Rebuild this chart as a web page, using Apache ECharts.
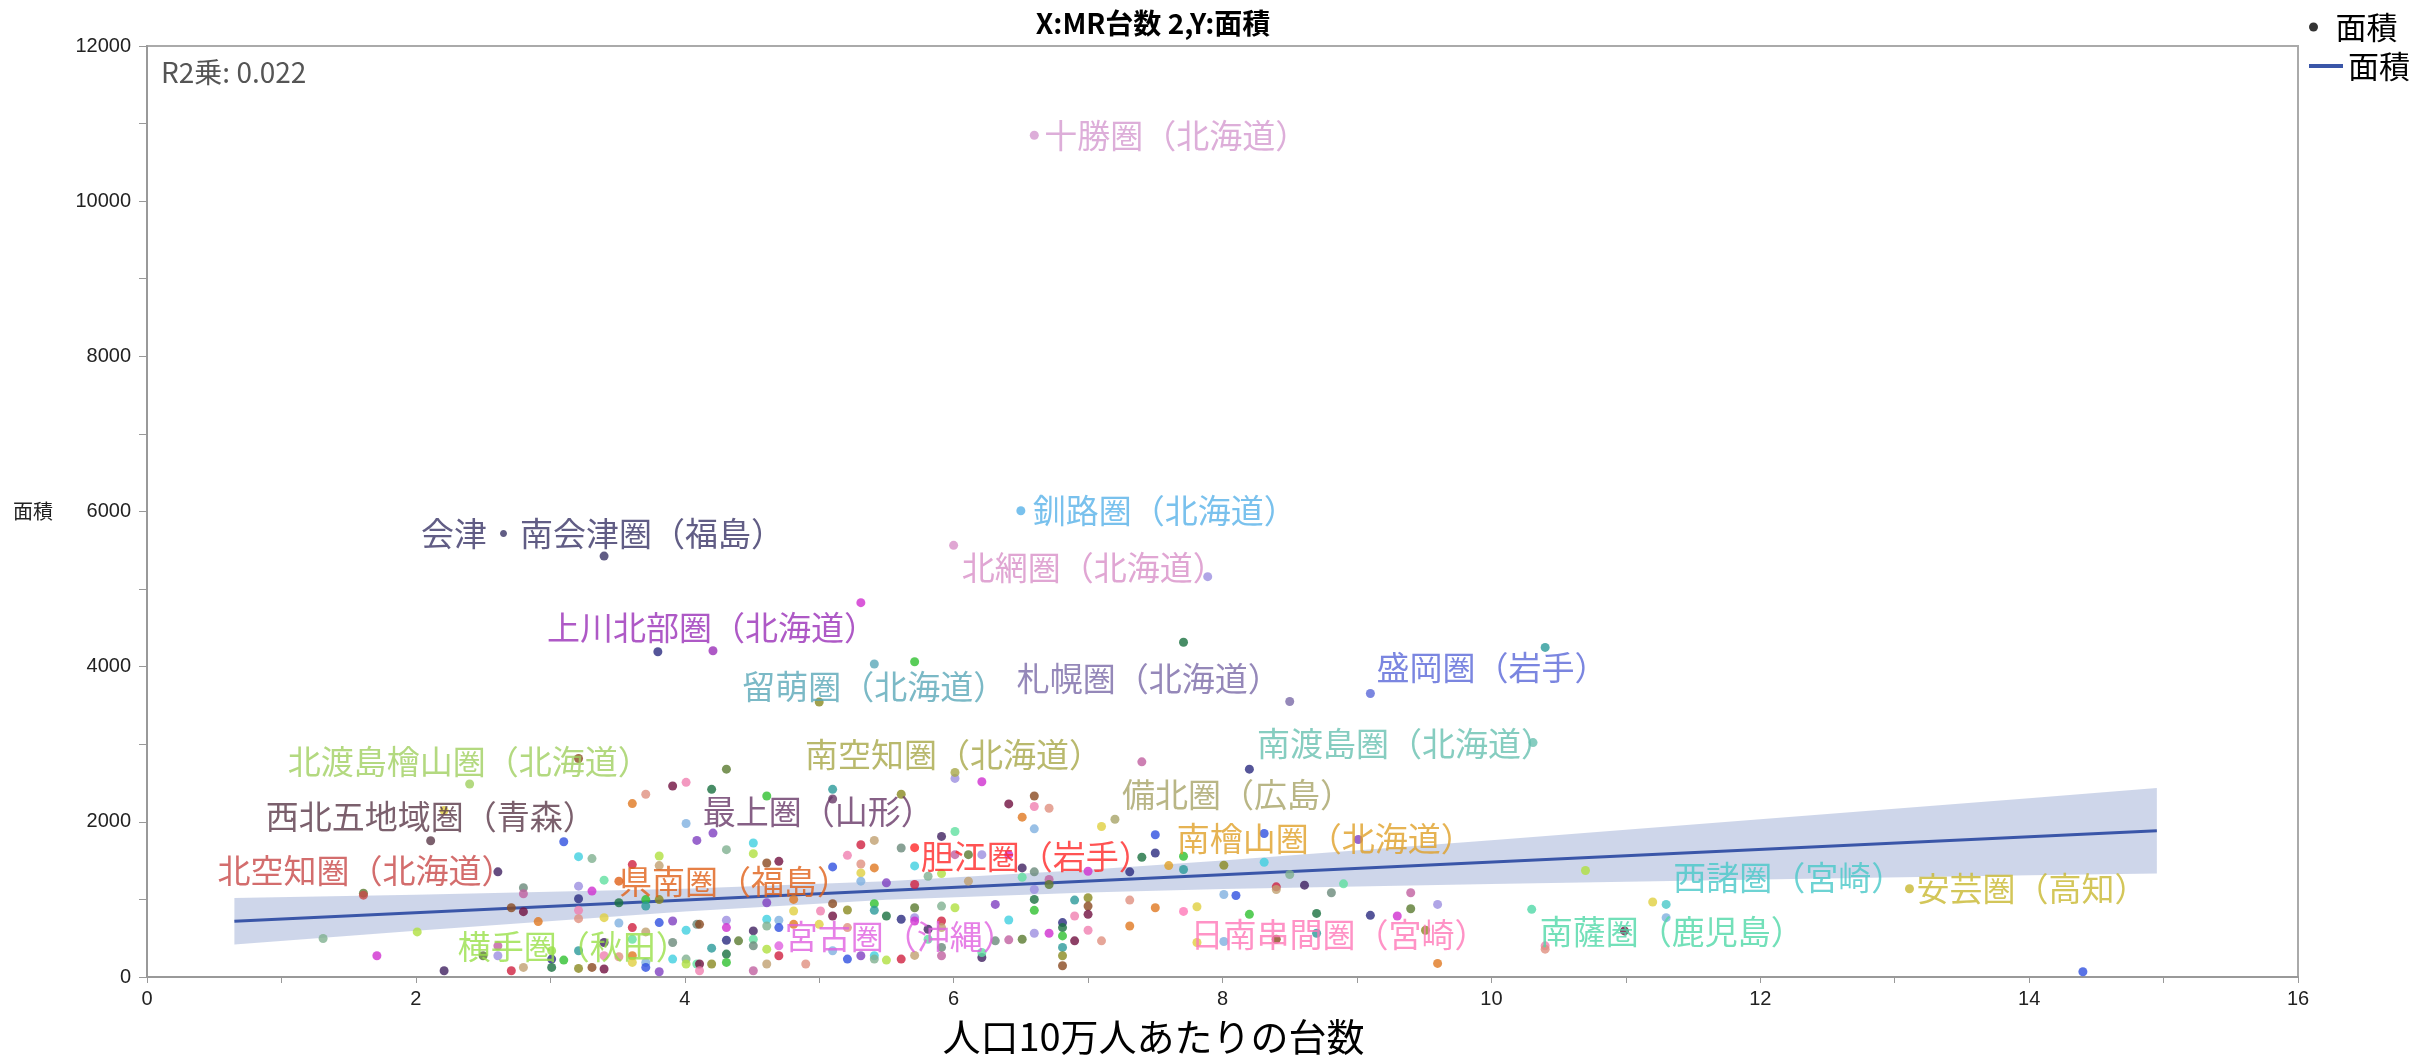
<!DOCTYPE html>
<html>
<head>
<meta charset="utf-8">
<script src="https://cdn.jsdelivr.net/npm/echarts@6/dist/echarts.min.js"></script>
<style>
html,body{margin:0;padding:0;background:#fff;}
#chart{width:2420px;height:1061px;}
</style>
</head>
<body>
<div id="chart"></div>
<script>
// MR台数 (人口10万人あたり) と 面積 - 二次医療圏ごとの散布図

// ラベルなしの点
var mrRate = [
  7.89,5.31,3.80,7.71,5.71,10.40,5.00,3.21,3.91,4.01,3.71,3.61,2.21,4.01,3.10,4.09,3.21,3.31,3.81,3.61,
  3.81,2.61,3.40,2.80,2.80,1.61,3.21,3.31,3.21,3.51,3.71,3.71,3.81,2.71,2.80,3.21,3.21,2.91,3.40,3.51,
  3.81,3.91,4.01,1.31,2.01,3.61,3.71,3.40,3.61,3.91,2.61,2.50,2.61,1.71,3.01,3.01,3.10,3.21,3.21,3.31,
  3.40,3.40,3.51,3.61,3.61,3.71,3.71,3.81,3.91,4.01,4.01,2.71,2.80,2.21,4.09,4.09,
  7.40,4.31,6.01,6.21,8.20,4.20,4.61,5.10,5.61,6.60,6.41,6.60,6.71,6.51,7.10,6.60,7.50,4.21,4.51,4.31,
  4.51,5.31,5.41,5.91,6.01,5.61,6.01,6.11,6.21,6.41,7.50,7.40,7.71,7.71,8.01,4.61,4.70,5.21,5.31,5.41,
  5.31,5.31,5.10,5.50,5.71,5.81,5.91,5.71,6.11,6.51,6.51,6.60,6.71,6.71,6.60,7.00,7.31,6.60,6.60,6.90,
  7.00,7.00,7.00,6.90,7.31,7.50,7.81,8.01,8.10,6.31,6.41,5.91,6.01,5.91,5.91,5.81,5.81,5.91,5.91,5.71,
  5.71,5.71,5.61,5.50,5.41,5.41,5.21,5.10,5.10,5.01,5.21,4.81,4.81,4.70,4.70,4.61,4.61,4.61,4.61,4.70,
  4.61,4.51,4.51,4.51,4.51,4.40,4.31,4.31,4.31,4.31,4.31,4.20,4.20,4.11,4.11,4.11,4.90,4.81,5.00,5.10,
  5.21,5.31,5.41,5.41,5.50,5.61,5.71,6.21,6.21,6.31,6.41,6.51,6.60,6.71,6.81,6.81,6.81,6.81,6.81,6.81,
  6.90,7.00,7.10,7.31,7.81,8.01,
  8.31,9.01,8.31,8.50,10.70,8.40,8.40,8.61,8.90,8.81,9.40,9.40,9.60,9.30,9.10,8.70,8.20,8.70,9.51,8.40,
  10.99,10.40,10.40,9.60,11.20,11.30,14.40
];
var area = [
  5160,4825,4192,4315,4064,4248,3543,2816,2462,2509,2355,2235,2145,1978,1744,1761,1551,1526,1560,1449,
  1436,1355,1248,1150,1073,1081,1171,1107,1009,957,998,914,998,893,842,859,752,714,765,696,
  701,722,603,496,581,637,581,445,487,445,402,274,274,274,231,124,218,338,111,124,
  103,274,261,274,188,188,124,68,231,231,167,81,124,81,167,679,
  2773,2679,2560,2517,2679,2419,2333,2419,2355,2333,2231,2197,2175,2060,1940,1910,1833,1855,1727,1641,
  1590,1705,1761,1812,1876,1663,1577,1577,1577,1577,1598,1543,1556,1385,1440,1470,1491,1568,1457,1406,
  1342,1235,1419,1214,1432,1299,1333,1192,1235,1406,1286,1355,1256,1192,1128,1363,1355,1000,859,991,
  1021,914,808,786,991,893,906,1064,1051,936,735,914,893,722,637,616,487,381,274,893,
  765,722,744,786,945,859,863,945,786,850,637,1000,850,731,637,957,744,658,359,274,
  167,594,487,402,81,466,731,637,474,295,188,372,167,679,167,81,167,679,679,338,
  231,274,274,231,218,231,278,252,316,466,479,487,564,564,701,637,530,381,274,145,
  466,603,466,658,445,458,
  1850,1773,1479,1321,1372,1162,1128,1184,1201,1086,1086,880,936,786,795,820,808,564,603,487,
  594,402,359,175,966,765,68
];

// ラベル付きの点
var regionNames = [
  '十勝圏（北海道）','釧路圏（北海道）','北網圏（北海道）','会津・南会津圏（福島）','上川北部圏（北海道）',
  '留萌圏（北海道）','札幌圏（北海道）','盛岡圏（岩手）','南渡島圏（北海道）','北渡島檜山圏（北海道）',
  '南空知圏（北海道）','西北五地域圏（青森）','最上圏（山形）','備北圏（広島）','北空知圏（北海道）',
  '南檜山圏（北海道）','県南圏（福島）','胆江圏（岩手）','西諸圏（宮崎）','安芸圏（高知）',
  '南薩圏（鹿児島）','日南串間圏（宮崎）','宮古圏（沖縄）','横手圏（秋田）'
];
var regionX = [6.60,6.50,6.00,3.40,4.21,5.41,8.50,9.10,10.31,2.40,6.01,2.11,5.10,7.20,1.61,7.60,3.51,5.71,11.30,13.11,10.30,7.71,4.70,3.01];
var regionY = [10850,6010,5564,5425,4205,4034,3551,3654,3021,2487,2637,1756,2295,2034,1055,1436,1235,1667,936,1137,872,845,402,338];

// 回帰直線と信頼帯
var fitX = [0.65, 14.95];
var fitY = [718, 1885];
var bandX = [0.65, 2, 4, 5.5, 7, 8, 10, 12, 14, 14.95];
var bandLow = [418, 596, 845, 995, 1090, 1133, 1199, 1256, 1310, 1335];
var bandHigh = [1018, 1060, 1137, 1233, 1382, 1503, 1763, 2032, 2304, 2435];

var r2Text = 'R2乗: 0.022';

// --- styles ---
var palette = ['#9c8fe0','#d030d0','#2a2a80','#1a7040','#30c030','#2a9a9a','#8a8a20','#8a4a20','#701040','#f080b0',
  '#e09080','#e07820','#e0d040','#80b0e0','#3050e0','#8040c0','#40d0e0','#80b090','#b0e040','#d02040',
  '#c0a070','#402060','#60e0a0','#6a8a7a','#c060a0','#5a7a30'];
var labelStyle = {
  '十勝圏（北海道）':{dx:10,dy:0,c:'#d49ad0'},
  '釧路圏（北海道）':{dx:12,dy:0,c:'#58b2e8'},
  '北網圏（北海道）':{dx:8,dy:22,c:'#d890c8'},
  '会津・南会津圏（福島）':{dx:-183,dy:-23,c:'#3a3466'},
  '上川北部圏（北海道）':{dx:-166,dy:-23,c:'#9a30b8'},
  '留萌圏（北海道）':{dx:-132,dy:22,c:'#5aa8b8'},
  '札幌圏（北海道）':{dx:-273,dy:-23,c:'#7a6aa8'},
  '盛岡圏（岩手）':{dx:6,dy:-26,c:'#5a68d8'},
  '南渡島圏（北海道）':{dx:-276,dy:1,c:'#68c0b0'},
  '北渡島檜山圏（北海道）':{dx:-182,dy:-23,c:'#a0d060'},
  '南空知圏（北海道）':{dx:-150,dy:-18,c:'#a8a848'},
  '西北五地域圏（青森）':{dx:-165,dy:-24,c:'#5a3848'},
  '最上圏（山形）':{dx:-130,dy:13,c:'#683868'},
  '備北圏（広島）':{dx:7,dy:-25,c:'#a8a468'},
  '北空知圏（北海道）':{dx:-146,dy:-25,c:'#c84848'},
  '南檜山圏（北海道）':{dx:8,dy:-27,c:'#e0a028'},
  '県南圏（福島）':{dx:0,dy:0,c:'#e06018'},
  '胆江圏（岩手）':{dx:6,dy:9,c:'#ff2828'},
  '西諸圏（宮崎）':{dx:7,dy:-27,c:'#48c8c8'},
  '安芸圏（高知）':{dx:7,dy:0,c:'#c8b830'},
  '南薩圏（鹿児島）':{dx:8,dy:22,c:'#50d8a8'},
  '日南串間圏（宮崎）':{dx:7,dy:23,c:'#ff78b8'},
  '宮古圏（沖縄）':{dx:6,dy:-9,c:'#e060e0'},
  '横手圏（秋田）':{dx:-94,dy:-4,c:'#98e048'}
};
var dotSize = 9;
var jp = 'Noto Sans CJK JP';

var chart = echarts.init(document.getElementById('chart'));

var plainPoints = mrRate.map(function (x, i) { return [x, area[i]]; });
var namedPoints = regionNames.map(function (n, i) {
  var s = labelStyle[n];
  return {
    name: n,
    value: [regionX[i], regionY[i]],
    itemStyle: {color: s.c},
    label: {
      show: true, position: 'right', distance: 0,
      offset: [s.dx - dotSize / 2, s.dy],
      color: s.c, formatter: '{b}',
      fontSize: 33, fontFamily: jp
    }
  };
});

// 信頼帯: 上側を左から右、下側を右から左にたどって多角形にする
function renderBand(params, api) {
  var pts = [];
  for (var i = 0; i < bandX.length; i++) pts.push(api.coord([bandX[i], bandHigh[i]]));
  for (var j = bandX.length - 1; j >= 0; j--) pts.push(api.coord([bandX[j], bandLow[j]]));
  return {type: 'polygon', shape: {points: pts}, style: {fill: 'rgba(60,90,170,0.25)'}};
}

var option = {
  animation: false,
  backgroundColor: '#fff',
  grid: {left: 147, right: 122, top: 46, bottom: 78, show: true, borderColor: '#aaa', borderWidth: 2},
  graphic: [
    {type: 'text', x: 1153, y: 23, style: {text: 'X:MR台数 2,Y:面積', font: 'bold 28px "Noto Sans CJK JP"', fill: '#000', textAlign: 'center', textVerticalAlign: 'middle'}},
    {type: 'text', x: 161, y: 72, z: 10, style: {text: r2Text, font: '28px "Noto Sans CJK JP"', fill: '#555', textAlign: 'left', textVerticalAlign: 'middle'}}
  ],
  legend: [
    {left: 2309, top: 11, padding: 0, itemWidth: 34, itemHeight: 9, selectedMode: false,
      data: [{name: '面積', icon: 'circle', itemStyle: {color: '#000'}}],
      textStyle: {fontSize: 31, lineHeight: 32, color: '#000', fontFamily: jp}},
    {left: 2309, top: 50, padding: 0, itemWidth: 34, itemHeight: 4, selectedMode: false,
      data: [{name: '面積 ', icon: 'rect', itemStyle: {color: '#3a56a8'}}],
      textStyle: {fontSize: 31, lineHeight: 32, color: '#000', fontFamily: jp}}
  ],
  xAxis: {
    type: 'value', min: 0, max: 16, interval: 2,
    name: '人口10万人あたりの台数', nameLocation: 'middle', nameGap: 41,
    nameTextStyle: {fontSize: 38, lineHeight: 38, color: '#000', fontFamily: jp, padding: [0, 138, 0, 0]},
    axisLine: {lineStyle: {color: '#999', width: 2}},
    axisTick: {length: 6, lineStyle: {color: '#999'}},
    minorTick: {show: true, splitNumber: 2, length: 6, lineStyle: {color: '#999'}},
    splitLine: {show: false},
    axisLabel: {fontSize: 20, color: '#222', fontFamily: 'Liberation Sans', margin: 12}
  },
  yAxis: {
    type: 'value', min: 0, max: 12000, interval: 2000,
    name: '面積', nameLocation: 'middle', nameRotate: 0, nameGap: 94,
    nameTextStyle: {fontSize: 20, color: '#222', fontFamily: jp},
    axisLine: {show: true, lineStyle: {color: '#999', width: 2}},
    axisTick: {show: true, length: 8, lineStyle: {color: '#999'}},
    minorTick: {show: true, splitNumber: 2, length: 8, lineStyle: {color: '#999'}},
    splitLine: {show: false},
    axisLabel: {fontSize: 20, color: '#222', fontFamily: 'Liberation Sans', margin: 16,
      formatter: function (v) { return String(v); }}
  },
  series: [
    {
      name: 'band', type: 'custom', silent: true, z: 1,
      renderItem: renderBand,
      data: [[bandX[0], bandLow[0]]]
    },
    {
      name: '面積 ', type: 'line', z: 2, symbol: 'none', silent: true,
      lineStyle: {color: '#3a56a8', width: 3},
      data: fitX.map(function (x, i) { return [x, fitY[i]]; })
    },
    {
      name: '面積', type: 'scatter', z: 3, symbolSize: dotSize,
      itemStyle: {color: function (p) { return palette[p.dataIndex % palette.length]; }},
      data: plainPoints
    },
    {
      name: '面積', type: 'scatter', z: 4, symbolSize: dotSize,
      data: namedPoints
    }
  ]
};
chart.setOption(option);
</script>
</body>
</html>
